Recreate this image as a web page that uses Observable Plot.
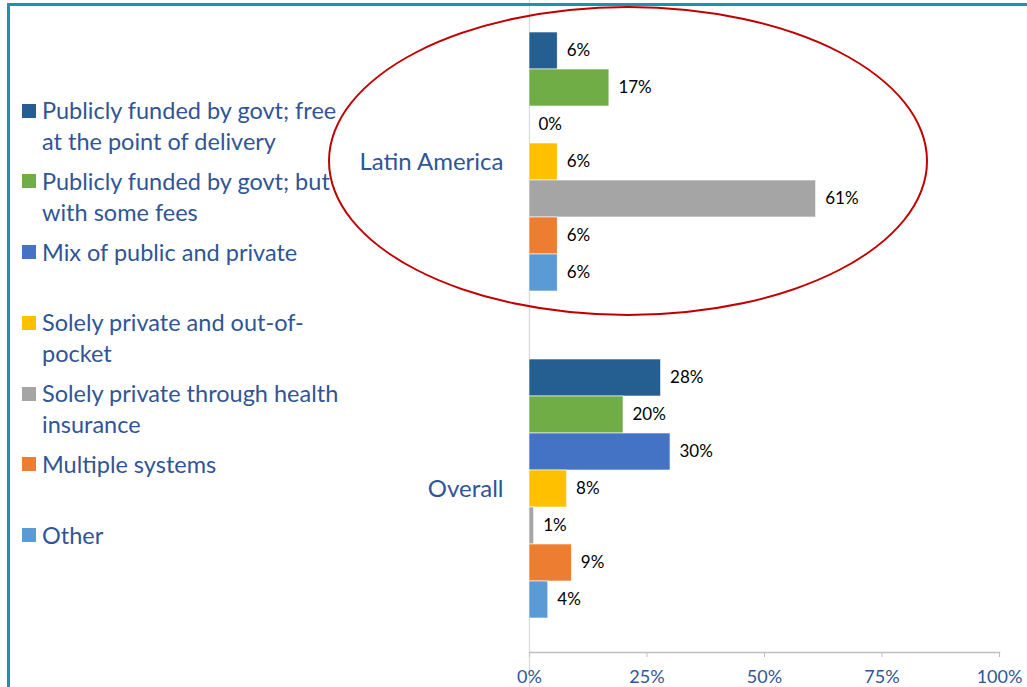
<!DOCTYPE html>
<html>
<head>
<meta charset="utf-8">
<script src="https://cdn.jsdelivr.net/npm/d3@7"></script>
<script src="https://cdn.jsdelivr.net/npm/@observablehq/plot@0.6"></script>
<style>
  html, body { margin: 0; padding: 0; background: #fff; }
  #wrap { position: relative; width: 1027px; height: 687px; overflow: hidden; font-family: Lato, "Open Sans", sans-serif; }
  #frame { position: absolute; left: 7px; top: 3px; width: 1040px; height: 720px; border-top: 3px solid #1595B2; border-left: 3px solid #1595B2; box-sizing: border-box; pointer-events: none; }
  #legend { position: absolute; left: 22px; top: 95px; color: #2F5597; font-size: 23.5px; line-height: 31px; }
  .item { display: flex; align-items: flex-start; height: 70.8px; }
  .sw { width: 14px; height: 14px; margin-top: 8.5px; margin-right: 6px; flex: none; }
  .lab { white-space: pre; }
  #ellipse { position: absolute; left: 328px; top: 6px; width: 600px; height: 310px; border: 2.5px solid #C00000; border-radius: 50%; box-sizing: border-box; pointer-events: none; }
  #chart { position: absolute; left: 0; top: 0; }
</style>
</head>
<body>
<div id="wrap">
  <div id="chart"></div>
  <div id="legend"></div>
  <div id="ellipse"></div>
  <div id="frame"></div>
</div>
<script>
const groups = ["Latin America", "Overall"];
const categories = [
  "Publicly funded by govt; free at the point of delivery",
  "Publicly funded by govt; but with some fees",
  "Mix of public and private",
  "Solely private and out-of-pocket",
  "Solely private through health insurance",
  "Multiple systems",
  "Other"
];
const legendLabels = [
  "Publicly funded by govt; free\nat the point of delivery",
  "Publicly funded by govt; but\nwith some fees",
  "Mix of public and private",
  "Solely private and out-of-\npocket",
  "Solely private through health\ninsurance",
  "Multiple systems",
  "Other"
];
const colors = ["#255E91", "#70AD47", "#4472C4", "#FFC000", "#A5A5A5", "#ED7D31", "#5B9BD5"];
const latinAmerica = [6, 17, 0, 6, 61, 6, 6];
const overall = [28, 20, 30, 8, 1, 9, 4];
const xTicks = [0, 25, 50, 75, 100];

const data = [];
categories.forEach((c, i) => data.push({group: groups[0], category: c, value: latinAmerica[i]}));
categories.forEach((c, i) => data.push({group: groups[1], category: c, value: overall[i]}));

const textColor = "#2F5597";

const chart = Plot.plot({
  width: 1027,
  height: 687,
  marginLeft: 529,
  marginRight: 28,
  marginTop: -2,
  marginBottom: 35,
  style: {fontFamily: "Lato, 'Open Sans', sans-serif", background: "transparent"},
  x: {domain: [0, 100]},
  y: {domain: categories, paddingInner: 0, paddingOuter: 0.9, axis: null},
  fy: {domain: groups, padding: 0},
  color: {domain: categories, range: colors},
  marks: [
    Plot.ruleX([0], {stroke: "#D9D9D9", strokeWidth: 1.2, insetTop: -40, insetBottom: -40}),
    Plot.barX(data, {x: "value", y: "category", fy: "group", fill: "category", stroke: "white", strokeWidth: 0.6}),
    Plot.text(data, {x: "value", y: "category", fy: "group", text: d => d.value + "%", textAnchor: "start", dx: 9, fontSize: 17, fill: "black"}),
    Plot.frame({anchor: "bottom", facetAnchor: "bottom", stroke: "#BFBFBF", strokeWidth: 1.5}),
    Plot.axisX({anchor: "bottom", ticks: xTicks, tickFormat: d => d + "%", tickSize: 5, tickPadding: 13, stroke: "#BFBFBF", fill: textColor, fontSize: 18, label: null}),
    Plot.axisFy({anchor: "left", tickSize: 0, tickPadding: 26, fill: textColor, fontSize: 24, label: null})
  ]
});
document.getElementById("chart").appendChild(chart);

const legend = document.getElementById("legend");
legendLabels.forEach((l, i) => {
  const item = document.createElement("div");
  item.className = "item";
  const sw = document.createElement("div");
  sw.className = "sw";
  sw.style.background = colors[i];
  const lab = document.createElement("div");
  lab.className = "lab";
  lab.textContent = l;
  item.appendChild(sw);
  item.appendChild(lab);
  legend.appendChild(item);
});
</script>
</body>
</html>
